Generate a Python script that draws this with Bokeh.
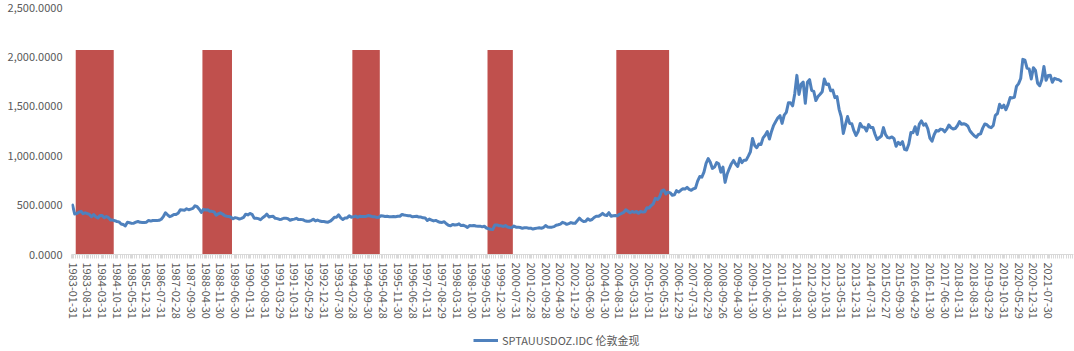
from bokeh.plotting import figure
from bokeh.layouts import column
from bokeh.models import Range1d, FixedTicker, NumeralTickFormatter, Legend, LegendItem
from bokeh.embed import file_html
from bokeh.resources import INLINE

# ---------------- data ----------------
start_year = 1983
series_name = "SPTAUUSDOZ.IDC 伦敦金现"

# month-end gold price, 1983-01 .. 2022-01 (12 values per row)
gold_price = [
    500, 410, 414, 429, 437, 413, 422, 414, 405, 382, 405, 382,        # 1983
    370, 394, 394, 373, 385, 373, 348, 348, 342, 334, 330, 309,        # 1984
    303, 290, 326, 321, 315, 317, 327, 334, 326, 325, 324, 327,        # 1985
    345, 338, 344, 345, 343, 346, 357, 384, 423, 402, 383, 391,        # 1986
    405, 406, 418, 452, 451, 449, 463, 453, 460, 467, 493, 484,        # 1987
    458, 426, 457, 451, 452, 437, 437, 431, 397, 412, 422, 410,        # 1988
    394, 387, 385, 377, 362, 373, 368, 359, 366, 376, 408, 401,        # 1989
    415, 407, 368, 367, 363, 352, 372, 387, 408, 380, 384, 386,        # 1990
    366, 363, 355, 357, 367, 368, 362, 347, 354, 358, 366, 353,        # 1991
    354, 353, 341, 337, 337, 343, 357, 340, 349, 339, 334, 333,        # 1992
    330, 327, 337, 354, 378, 378, 401, 371, 355, 369, 370, 391,        # 1993
    378, 381, 389, 376, 387, 385, 384, 385, 394, 389, 383, 383,        # 1994
    375, 377, 392, 389, 385, 387, 383, 382, 384, 383, 387, 387,        # 1995
    405, 400, 396, 392, 391, 382, 385, 387, 379, 379, 371, 369,        # 1996
    345, 358, 349, 340, 345, 334, 326, 325, 332, 311, 296, 290,        # 1997
    304, 298, 301, 310, 293, 296, 288, 273, 293, 292, 294, 288,        # 1998
    287, 287, 280, 286, 268, 261, 255, 254, 299, 299, 291, 290,        # 1999
    284, 293, 278, 274, 272, 288, 277, 277, 273, 265, 270, 272,        # 2000
    265, 267, 258, 263, 267, 270, 266, 273, 293, 279, 275, 277,        # 2001
    282, 297, 301, 308, 326, 318, 305, 313, 323, 316, 317, 342,        # 2002
    368, 347, 334, 336, 361, 346, 354, 375, 388, 386, 398, 416,        # 2003
    399, 395, 423, 388, 393, 395, 391, 407, 416, 426, 453, 438,        # 2004
    422, 435, 427, 435, 417, 437, 429, 433, 473, 470, 495, 513,        # 2005
    569, 556, 582, 644, 653, 613, 632, 624, 599, 604, 646, 632,        # 2006
    650, 665, 662, 679, 659, 650, 665, 673, 743, 789, 783, 834,        # 2007
    923, 971, 933, 871, 885, 930, 918, 833, 884, 730, 815, 870,        # 2008
    919, 952, 916, 891, 975, 930, 955, 955, 996, 1040, 1175, 1104,     # 2009
    1081, 1119, 1113, 1180, 1207, 1244, 1169, 1246, 1307, 1346, 1383, 1405,  # 2010
    1327, 1411, 1439, 1535, 1536, 1505, 1628, 1813, 1620, 1722, 1746, 1531,  # 2011
    1744, 1770, 1662, 1651, 1558, 1598, 1622, 1648, 1776, 1720, 1726, 1657,  # 2012
    1664, 1588, 1598, 1469, 1394, 1225, 1315, 1396, 1327, 1324, 1253, 1205,  # 2013
    1244, 1326, 1291, 1288, 1250, 1315, 1285, 1286, 1217, 1164, 1182, 1199,  # 2014
    1284, 1213, 1183, 1180, 1190, 1172, 1095, 1135, 1114, 1142, 1065, 1058,  # 2015
    1118, 1234, 1233, 1293, 1215, 1320, 1352, 1309, 1322, 1273, 1178, 1146,  # 2016
    1212, 1255, 1249, 1269, 1266, 1242, 1269, 1311, 1283, 1271, 1275, 1303,  # 2017
    1345, 1318, 1324, 1316, 1298, 1250, 1224, 1201, 1187, 1215, 1221, 1279,  # 2018
    1321, 1313, 1292, 1283, 1305, 1409, 1427, 1520, 1485, 1511, 1465, 1517,  # 2019
    1588, 1585, 1591, 1702, 1729, 1781, 1975, 1967, 1887, 1879, 1777, 1891,  # 2020
    1863, 1734, 1708, 1769, 1903, 1763, 1813, 1814, 1743, 1783, 1774, 1770,  # 2021
    1755,                                                                      # 2022
]

tick_labels = [
    "1983-01-31", "1983-08-31", "1984-03-31", "1984-10-31", "1985-05-31", "1985-12-31",
    "1986-07-31", "1987-02-28", "1987-09-30", "1988-04-30", "1988-11-30", "1989-06-30",
    "1990-01-31", "1990-08-31", "1991-03-29", "1991-10-31", "1992-05-29", "1992-12-31",
    "1993-07-30", "1994-02-28", "1994-09-30", "1995-04-28", "1995-11-30", "1996-06-28",
    "1997-01-31", "1997-08-29", "1998-03-31", "1998-10-30", "1999-05-31", "1999-12-30",
    "2000-07-31", "2001-02-28", "2001-09-28", "2002-04-30", "2002-11-29", "2003-06-30",
    "2004-01-30", "2004-08-31", "2005-03-31", "2005-10-31", "2006-05-31", "2006-12-29",
    "2007-07-31", "2008-02-29", "2008-09-26", "2009-04-30", "2009-11-30", "2010-06-30",
    "2011-01-31", "2011-08-31", "2012-03-30", "2012-10-31", "2013-05-31", "2013-12-31",
    "2014-07-31", "2015-02-27", "2015-09-30", "2016-04-29", "2016-11-30", "2017-06-30",
    "2018-01-31", "2018-08-31", "2019-03-29", "2019-10-31", "2020-05-29", "2020-12-31",
    "2021-07-30",
]
tick_step = 7          # one label every 7 months
n_categories = 475     # categories on the axis (1983-01 .. 2022-07)

# shaded periods (column series, gap width 0)
shade_start = ["1983-03", "1988-03", "1994-02", "1999-06", "2004-07"]
shade_end = ["1984-08", "1989-04", "1995-02", "2000-05", "2006-07"]
shade_value = 2070

y_ticks = [0, 500, 1000, 1500, 2000, 2500]


def month_index(s):
    y, m = s.split("-")
    return (int(y) - start_year) * 12 + int(m) - 1


# ---------------- main chart ----------------
TEXT = "#595959"
FONT = "Noto Sans CJK SC"
LINE_COLOR = "#4F81BD"
FRAME_LEFT = 71

p = figure(width=1074, height=321, output_backend="svg", toolbar_location=None,
           x_range=Range1d(-0.5, n_categories - 1), y_range=Range1d(0, 2500),
           min_border_left=FRAME_LEFT, min_border_right=1, min_border_top=7,
           min_border_bottom=63)
p.outline_line_color = None
p.xgrid.visible = False
p.ygrid.visible = False

# shaded bars
p.quad(left=[month_index(s) - 0.5 for s in shade_start],
       right=[month_index(e) + 0.5 for e in shade_end],
       bottom=0, top=shade_value, fill_color="#C0504D", line_color=None)

# gold line
p.line(x=list(range(len(gold_price))), y=gold_price, line_color=LINE_COLOR,
       line_width=3, line_join="round", line_cap="round")

# x axis
xa = p.xaxis[0]
tick_pos = [i * tick_step for i in range(len(tick_labels))]
xa.ticker = FixedTicker(ticks=tick_pos, minor_ticks=[i - 0.5 for i in range(n_categories + 1)])
xa.major_label_overrides = {t: lab for t, lab in zip(tick_pos, tick_labels)}
xa.major_label_orientation = "vertical"
xa.major_label_text_font = FONT
xa.major_label_text_font_size = "11px"
xa.major_label_text_color = TEXT
xa.major_label_standoff = 4
xa.axis_line_color = "#D9D9D9"
xa.major_tick_line_color = "#D9D9D9"
xa.minor_tick_line_color = "#D9D9D9"
xa.major_tick_in = 0
xa.major_tick_out = 4
xa.minor_tick_in = 0
xa.minor_tick_out = 4

# y axis
ya = p.yaxis[0]
ya.ticker = FixedTicker(ticks=y_ticks)
ya.formatter = NumeralTickFormatter(format="0,0.0000")
ya.axis_line_color = None
ya.major_tick_line_color = None
ya.minor_tick_line_color = None
ya.major_tick_in = 0
ya.major_tick_out = 0
ya.minor_tick_in = 0
ya.minor_tick_out = 0
ya.major_label_text_font = FONT
ya.major_label_text_font_size = "11px"
ya.major_label_text_color = TEXT
ya.major_label_standoff = 9

# ---------------- legend strip ----------------
p2 = figure(width=1074, height=30, output_backend="svg", toolbar_location=None,
            x_range=Range1d(0, 1), y_range=Range1d(0, 1),
            x_axis_type=None, y_axis_type=None,
            min_border_left=FRAME_LEFT, min_border_right=1, min_border_top=0,
            min_border_bottom=0)
p2.outline_line_color = None
p2.xgrid.visible = False
p2.ygrid.visible = False
legend_line = p2.line(x=[-10, -9], y=[-10, -10], line_color=LINE_COLOR, line_width=3)

legend = Legend(items=[LegendItem(label=series_name, renderers=[legend_line])],
                location=(473 - FRAME_LEFT, 1), orientation="horizontal",
                border_line_color=None, background_fill_alpha=0,
                label_text_font=FONT, label_text_font_size="11px", label_text_color=TEXT,
                glyph_width=25, glyph_height=20, label_standoff=4,
                padding=0, margin=0, spacing=0)
p2.add_layout(legend)

layout = column(p, p2, spacing=0)
open("out.html", "w").write(file_html(layout, INLINE))
